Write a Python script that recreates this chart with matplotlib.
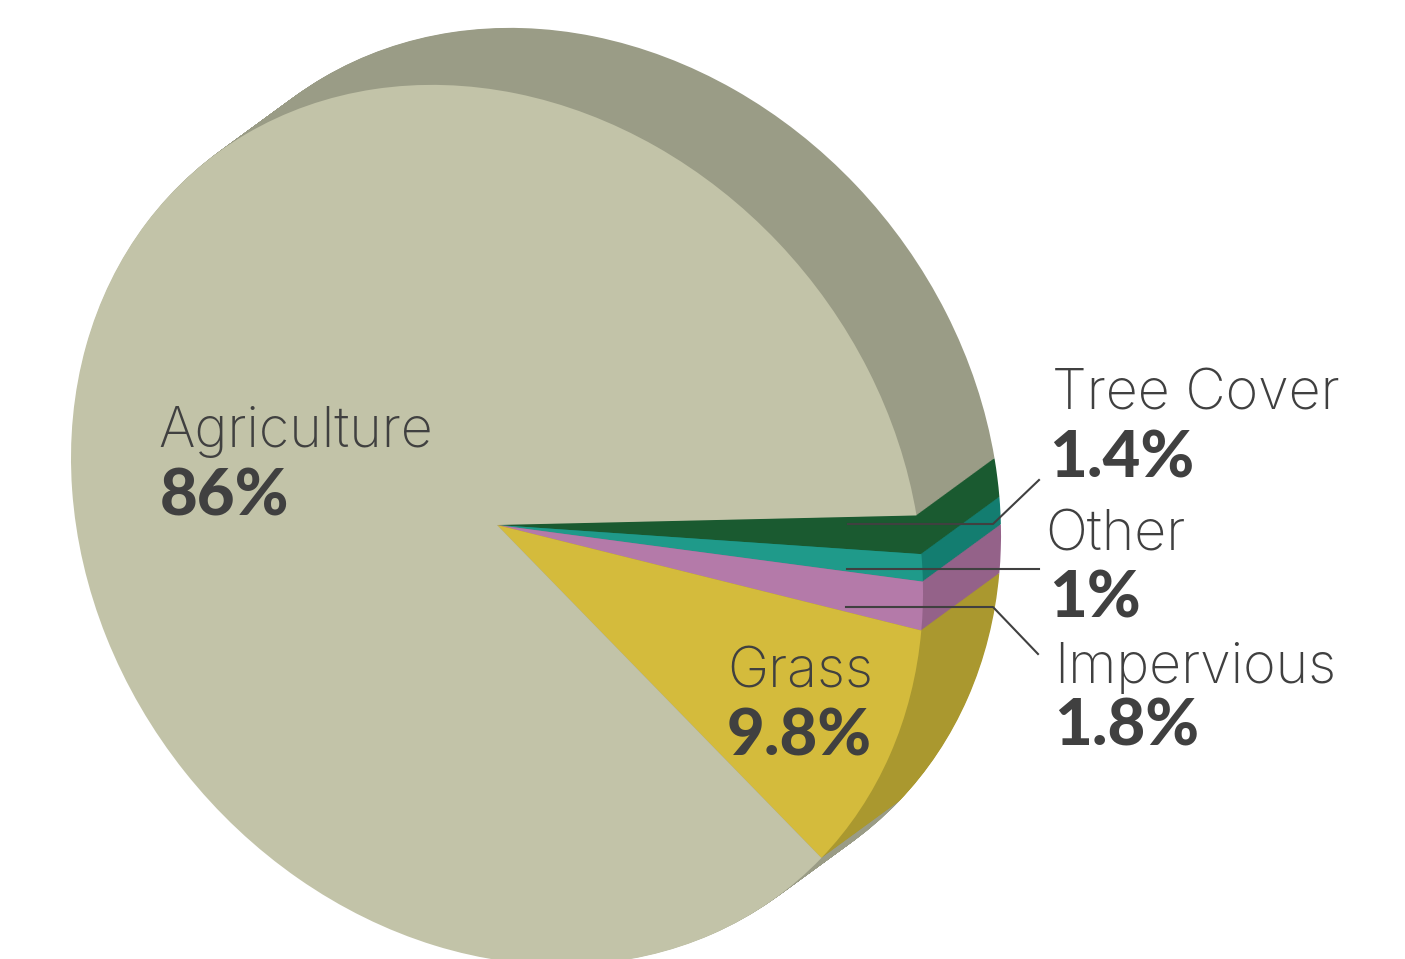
import matplotlib
matplotlib.use('Agg')
import matplotlib.pyplot as plt
from matplotlib.transforms import Affine2D

# slices in drawing order, clockwise from the top right
categories = ['Tree Cover', 'Other', 'Impervious', 'Grass', 'Agriculture']
shares = [1.4, 1.0, 1.8, 9.8, 86.0]
share_labels = ['1.4%', '1%', '1.8%', '9.8%', '86%']

top_colors = ['#1a5a30', '#1f9a8a', '#b47aa9', '#d4bb3c', '#c2c3a8']
side_colors = ['#1a5a30', '#137d70', '#946289', '#aa982f', '#9a9c86']

TEXT_COLOR = '#404040'

fig = plt.figure(figsize=(14.05, 9.59), dpi=100)
ax = fig.add_axes([0, 0, 1, 1])


def draw_pie(colors, dx=0.0, dy=0.0):
    wedges, _ = ax.pie(shares, colors=colors, startangle=10, counterclock=False)
    # skew the unit pie into the tilted ellipse of the picture
    skew = Affine2D.from_values(426, 67, 0, -435, 497 + dx, 525 + dy)
    for w in wedges:
        w.set_transform(skew + ax.transData)
        w.set_linewidth(0)


# Extrude the pie by stacking it from the back to the front
steps = 90
for i in range(steps, 0, -1):
    draw_pie(side_colors, 78 * i / steps, -57 * i / steps)
draw_pie(top_colors)

ax.set_aspect('auto')
ax.set_xlim(0, 1405)
ax.set_ylim(959, 0)
ax.axis('off')

# Leader lines
ax.plot([848, 993, 1039], [524, 524, 480], color=TEXT_COLOR, lw=1.5)
ax.plot([847, 1039], [569, 569], color=TEXT_COLOR, lw=1.5)
ax.plot([846, 993, 1038], [607, 607, 654], color=TEXT_COLOR, lw=1.5)


def label(name, value, x_name, y_name, x_value, y_value):
    ax.text(x_name, y_name, name, family='Inter', weight='light', fontsize=40,
            color=TEXT_COLOR, va='baseline')
    ax.text(x_value, y_value, value, family='Lato', weight='black', fontsize=47,
            color=TEXT_COLOR, va='baseline')


label(categories[4], share_labels[4], 158, 447, 160, 515)
label(categories[3], share_labels[3], 727, 688, 727, 755)
label(categories[0], share_labels[0], 1052, 410, 1049, 477)
label(categories[1], share_labels[1], 1045, 550, 1049, 617)
label(categories[2], share_labels[2], 1054, 683, 1054, 745)

fig.savefig('out.png', dpi=100)
plt.close(fig)
